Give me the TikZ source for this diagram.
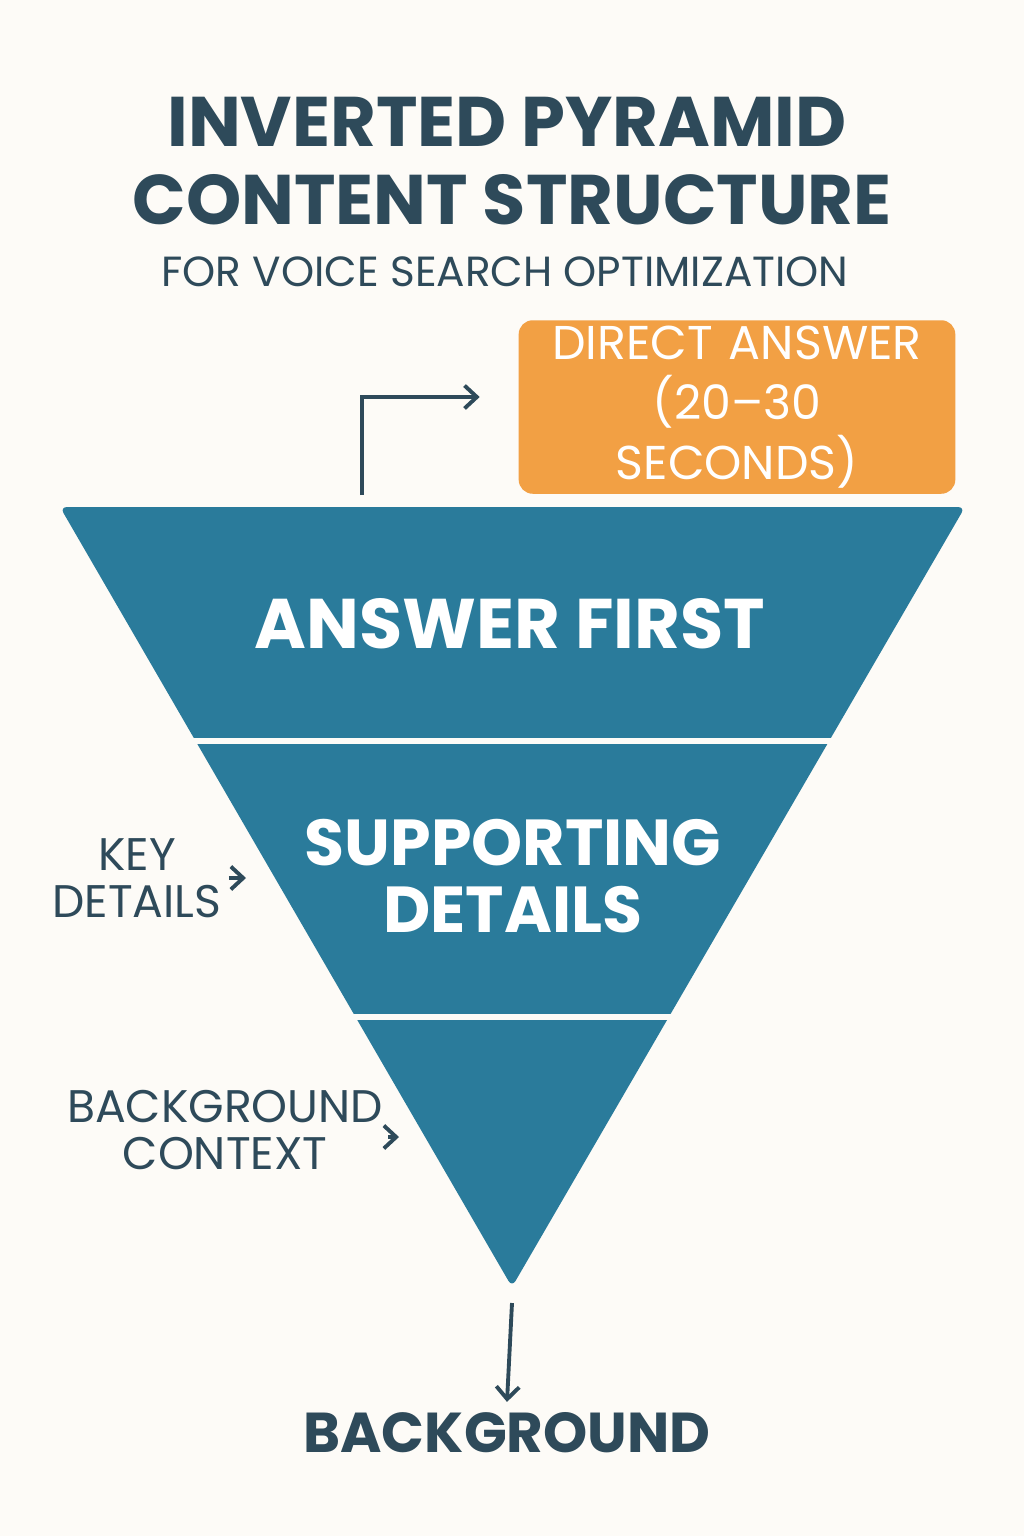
\documentclass[tikz,border=0pt]{standalone}
\usepackage{fontspec}
\setmainfont{Poppins}
\usetikzlibrary{positioning, arrows.meta}
\definecolor{bgcol}{HTML}{FDFBF7}
\definecolor{ink}{HTML}{2E4A5A}
\definecolor{funnel}{HTML}{2A7B9B}
\definecolor{answer}{HTML}{F2A044}
\begin{document}
\begin{tikzpicture}
        [x=0.02cm, y=-0.02cm,
         label/.style={text=ink, font=\bfseries, align=center, inner sep=0pt},
         inlabel/.style={text=white, font=\bfseries, align=center, inner sep=0pt},
         pointer/.style={draw=ink, line width=2.2pt, -{Straight Barb[length=7pt, width=13pt]}}]
        \fill[bgcol] (0,0) rectangle (1024,1536);

        % title
        \node[label, font=\bfseries\fontsize{40}{48}\selectfont] (title1) at (507,122) {INVERTED PYRAMID};
        \node[label, font=\bfseries\fontsize{40}{48}\selectfont] (title2) at (512,200) {CONTENT STRUCTURE};
        \node[label, font=\fontsize{24}{28}\selectfont] (sub) at (505,272) {FOR VOICE SEARCH OPTIMIZATION};

        % funnel
        \fill[funnel, rounded corners=4pt] (60,507) -- (965,507) -- (512,1287) -- cycle;
        \draw[bgcol, line width=3.5pt] (190,741) -- (835,741);
        \draw[bgcol, line width=3.5pt] (350,1017) -- (675,1017);
        \coordinate (top) at (362,495);
        \coordinate (tip) at (512,1303);

        \node[inlabel, font=\bfseries\fontsize{40}{46}\selectfont] (first) at (510,624) {ANSWER FIRST};
        \node[inlabel, font=\bfseries\fontsize{37}{38}\selectfont] (support) at (513,876) {SUPPORTING\\DETAILS};

        % direct answer box
        \node[fill=answer, rounded corners=8pt, minimum width=465\pgflinewidth, text width=8.5cm,
              minimum height=2.7cm, text=white, font=\fontsize{27}{34}\selectfont, align=center]
              (direct) at (737,407) {DIRECT ANSWER\\(20--30 SECONDS)};
        \coordinate (bend) at (362,397);
        \draw[pointer] (top) -- (bend) -- ([xshift=-22pt]direct.west |- bend);

        % side labels
        \node[label, font=\fontsize{26}{27}\selectfont] (key) at (137,878) {KEY\\DETAILS};
        \coordinate (keyend) at (246,878);
        \draw[pointer] (key.east |- keyend) ++(4pt,0) coordinate (keystart) -- (keyend);
        \node[label, font=\fontsize{26}{27}\selectfont] (context) at (225,1130) {BACKGROUND\\CONTEXT};
        \coordinate (ctxa) at (388,1137);
        \coordinate (ctxb) at (399,1137);
        \draw[pointer] (ctxa) -- (ctxb);

        % bottom
        \node[label, font=\bfseries\fontsize{32}{36}\selectfont] (bottom) at (507,1433) {BACKGROUND};
        \draw[pointer] (tip) -- ([yshift=6pt]bottom.north);
\end{tikzpicture}
\end{document}
